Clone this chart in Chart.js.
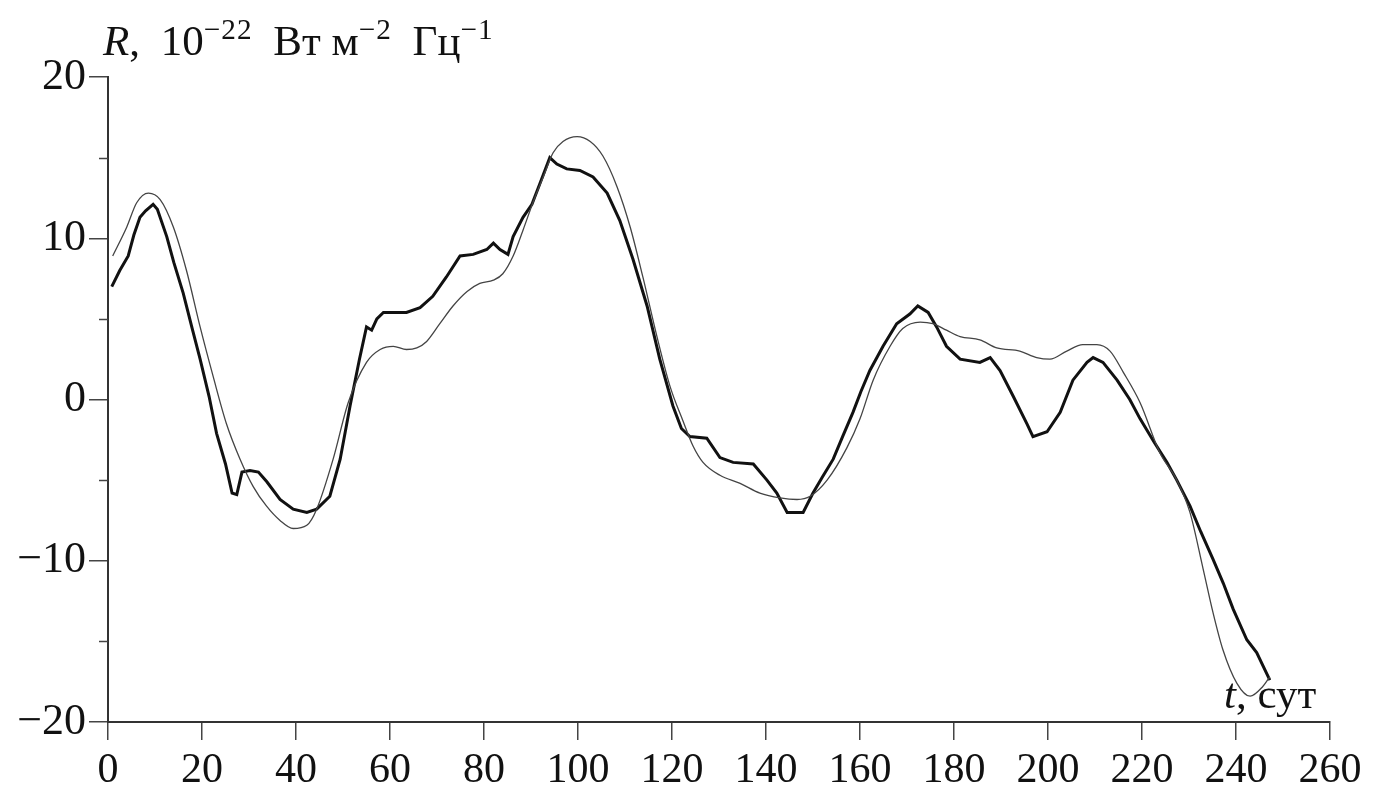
<!DOCTYPE html>
<html lang="ru">
<head>
    <meta charset="UTF-8">
    <title>R(t)</title>
    <script src="https://cdn.jsdelivr.net/npm/chart.js"></script>
    <style>
        body { margin: 0; background: #fff; }
        #wrap { position: relative; width: 1393px; height: 804px; }
        .lbl { position: absolute; font-family: 'Liberation Serif', 'DejaVu Serif', serif; font-size: 43px; line-height: 43px; color: #111; white-space: nowrap; }
        .lbl sup { font-size: 0.68em; position: relative; top: -0.55em; vertical-align: baseline; letter-spacing: 1px; }
        .sp { display: inline-block; width: 10px; }
    </style>
</head>
<body>
<div id="wrap">
    <canvas id="graf" width="1393" height="804"></canvas>
    <div class="lbl" style="left:103px; top:19px;"><i>R</i>,<span class="sp"></span> 10<sup>−22</sup><span class="sp"></span> Вт м<sup>−2</sup><span class="sp"></span> Гц<sup>−1</sup></div>
    <div class="lbl" style="left:1224px; top:672px;"><i>t</i>, сут</div>
</div>

<script>
    // измеренная кривая (жирная линия)
    const tIzm = [0.8, 2.5, 4.3, 5.5, 6.8, 8.0, 9.6, 10.5, 12.5, 14, 16, 18, 19.6, 21.5, 23.1, 25, 26.4, 27.4, 28.5, 30.2,
        32, 33.8, 36.6, 39.4, 42.3, 44.4, 47.2, 49.4, 51.5, 53.5, 55, 56.1, 57.2, 58.6, 63.5, 66.4, 69.1, 72, 74.9, 77.7,
        80.6, 82, 83.4, 85.1, 86.2, 88.3, 90.2, 91.9, 94, 95.5, 97.6, 100.4, 103.2, 106.2, 108.9, 111.7, 114.7, 117.4, 120.2, 122,
        123.8, 127.4, 130.2, 133, 137.3, 140.2, 142.3, 144.5, 147.9, 150, 152, 154.3, 156.3, 158.5, 160.2, 162.1, 164.9, 167.8, 170.6, 172.3,
        174.5, 176.3, 178.4, 181.3, 185.5, 187.7, 189.8, 192.6, 195.5, 196.8, 199.8, 202.6, 205.3, 208.3, 209.6, 211.7, 214.7, 217.4, 219.6, 222.5,
        225.3, 227.4, 230.2, 232.5, 235.1, 237.3, 239.4, 242.3, 244.4, 247.2];
    const rIzm = [7.0, 8.0, 8.9, 10.2, 11.3, 11.7, 12.1, 11.8, 10.1, 8.5, 6.6, 4.3, 2.5, 0.2, -2.1, -4.0, -5.8, -5.9, -4.5, -4.4,
        -4.5, -5.1, -6.2, -6.8, -7.0, -6.8, -6.0, -3.7, -0.4, 2.5, 4.5, 4.3, 5.0, 5.4, 5.4, 5.7, 6.4, 7.6, 8.9, 9.0,
        9.3, 9.7, 9.3, 9.0, 10.1, 11.3, 12.1, 13.4, 15.0, 14.6, 14.3, 14.2, 13.8, 12.8, 11.1, 8.7, 5.8, 2.5, -0.4, -1.8,
        -2.3, -2.4, -3.6, -3.9, -4.0, -5.0, -5.8, -7.0, -7.0, -5.8, -4.8, -3.7, -2.3, -0.8, 0.5, 1.8, 3.3, 4.7, 5.3, 5.8,
        5.4, 4.5, 3.3, 2.5, 2.3, 2.6, 1.8, 0.2, -1.5, -2.3, -2.0, -0.8, 1.2, 2.3, 2.6, 2.3, 1.2, 0, -1.2, -2.6,
        -3.9, -5.0, -6.6, -8.2, -9.9, -11.4, -13.0, -14.9, -15.7, -17.4];

    // модельная кривая (тонкая линия)
    const tMod = [1, 4, 6.1, 8.6, 11.1, 13.9, 16.7, 19.6, 22.4, 25.2, 28.1, 30.9, 33.7, 36.6, 39.4, 42.3, 44.4, 47.9, 51.1, 55,
        57.9, 60.7, 63.5, 65.7, 67.8, 70.6, 73.4, 76.4, 79.1, 82, 84, 86.2, 88.3, 90.4, 92.6, 94.7, 96.8, 99.8, 102.6, 105.3,
        108.3, 111.1, 113.8, 116.8, 119.6, 122.3, 124.5, 126.6, 130.2, 134.5, 138.7, 143, 146.6, 149.4, 153, 157.2, 160, 162.8, 166.4, 169.1,
        172.8, 175.5, 178.4, 181.3, 185.5, 189.1, 194, 197.6, 200.4, 204, 207.4, 210.4, 213.2, 216, 219.6, 223.8, 227.4, 230.2, 233, 235.1,
        237.2, 240.2, 243, 245.7, 247.2];
    const rMod = [8.9, 10.7, 12.2, 12.8, 12.4, 10.7, 8.0, 4.5, 1.4, -1.5, -3.7, -5.4, -6.6, -7.5, -8.0, -7.8, -6.8, -3.7, -0.2, 2.3,
        3.1, 3.3, 3.1, 3.2, 3.6, 4.7, 5.8, 6.7, 7.2, 7.4, 7.8, 8.9, 10.5, 12.2, 13.8, 15.3, 16.0, 16.3, 16.0, 15.1,
        13.2, 10.7, 7.6, 3.9, 0.8, -1.3, -2.9, -3.9, -4.7, -5.2, -5.8, -6.1, -6.2, -6.0, -5.0, -3.0, -1.2, 1.2, 3.3, 4.4,
        4.8, 4.7, 4.3, 3.9, 3.7, 3.2, 3.0, 2.6, 2.5, 3.0, 3.4, 3.4, 3.0, 1.7, -0.2, -3.3, -5.0, -7.0, -10.5, -13.2,
        -15.5, -17.6, -18.4, -17.8, -17.2];

    const xTicks = [0, 20, 40, 60, 80, 100, 120, 140, 160, 180, 200, 220, 240, 260];
    const yTicks = [-20, -10, 0, 10, 20];
    const yMinor = [-15, -5, 5, 15];

    const semya = "'Liberation Serif', 'DejaVu Serif', serif";

    // короткие промежуточные штрихи на оси R
    const minorTicks = {
        id: 'minorTicks',
        afterDraw(chart) {
            const ys = chart.scales.y;
            const c = chart.ctx;
            c.save();
            c.strokeStyle = '#444';
            c.lineWidth = 1.5;
            yMinor.forEach(v => {
                const py = Math.round(ys.getPixelForValue(v)) + 0.5;
                c.beginPath();
                c.moveTo(ys.right - 9, py);
                c.lineTo(ys.right, py);
                c.stroke();
            });
            c.restore();
        }
    };

    new Chart(document.getElementById('graf').getContext('2d'), {
        type: 'line',
        data: {
            datasets: [{
                data: tMod.map((t, i) => ({ x: t, y: rMod[i] })),
                borderColor: '#444',
                borderWidth: 1.3,
                pointRadius: 0,
                tension: 0.4,
                cubicInterpolationMode: 'monotone'
            }, {
                data: tIzm.map((t, i) => ({ x: t, y: rIzm[i] })),
                borderColor: '#111',
                borderWidth: 3,
                pointRadius: 0,
                tension: 0
            }]
        },
        options: {
            responsive: false,
            devicePixelRatio: 1,
            animation: false,
            layout: { padding: { top: 77, right: 63, left: 0, bottom: 0 } },
            plugins: { legend: { display: false }, tooltip: { enabled: false } },
            scales: {
                x: {
                    type: 'linear',
                    min: 0, max: 260,
                    afterFit: s => { s.height = 82; },
                    afterBuildTicks: s => { s.ticks = xTicks.map(v => ({ value: v })); },
                    ticks: { font: { family: semya, size: 42 }, color: '#111', padding: 6, maxRotation: 0 },
                    grid: { drawOnChartArea: false, drawTicks: true, tickLength: 18, color: '#444', lineWidth: 1.5 },
                    border: { display: true, color: '#333', width: 2 }
                },
                y: {
                    type: 'linear',
                    min: -20, max: 20,
                    afterFit: s => { s.width = 108; },
                    afterBuildTicks: s => { s.ticks = yTicks.map(v => ({ value: v })); },
                    ticks: {
                        font: { family: semya, size: 44 }, color: '#111', padding: 3,
                        callback: v => (v < 0 ? '\u2212' + Math.abs(v) : String(v))
                    },
                    grid: { drawOnChartArea: false, drawTicks: true, tickLength: 19, color: '#444', lineWidth: 1.5 },
                    border: { display: true, color: '#333', width: 2 }
                }
            }
        },
        plugins: [minorTicks]
    });
</script>
</body>
</html>
